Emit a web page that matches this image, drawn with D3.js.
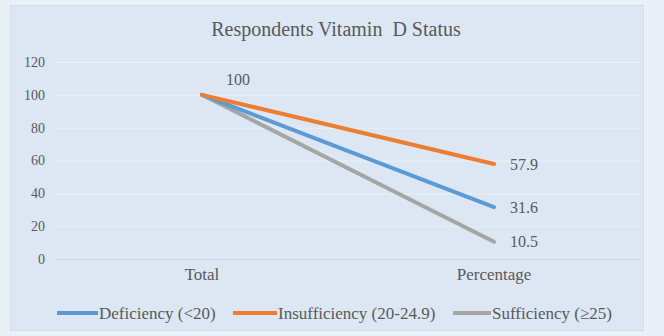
<!DOCTYPE html>
<html>
<head>
<meta charset="utf-8">
<script src="https://cdn.jsdelivr.net/npm/d3@7"></script>
<style>
  html, body { margin: 0; padding: 0; background: #e8eff7; }
  svg { display: block; }
  text { font-family: "Liberation Serif", "Times New Roman", serif; fill: #595959; }
</style>
</head>
<body>
<svg id="chart" width="664" height="336"></svg>
<script>
// Vitamin D status of respondents
const categories = ["Total", "Percentage"];
const seriesNames = ["Deficiency (<20)", "Insufficiency (20-24.9)", "Sufficiency (\u226525)"];
const deficiency = [100, 31.6];
const insufficiency = [100, 57.9];
const sufficiency = [100, 10.5];
const yTicks = [0, 20, 40, 60, 80, 100, 120];
const colors = ["#5b9bd5", "#ed7d31", "#a5a5a5"];

const series = [deficiency, insufficiency, sufficiency].map((values, i) => ({
  name: seriesNames[i], values, color: colors[i]
}));

const svg = d3.select("#chart");
const serif = "'Liberation Serif', 'Times New Roman', serif";

// panel
svg.append("rect")
  .attr("x", 10.5).attr("y", 5.5)
  .attr("width", 633).attr("height", 325)
  .attr("fill", "#dce7f3")
  .attr("stroke", "#d3dde9");

svg.append("text")
  .attr("x", 336).attr("y", 36)
  .attr("text-anchor", "middle")
  .attr("xml:space", "preserve")
  .style("white-space", "pre")
  .style("font-size", "20px")
  .text("Respondents Vitamin  D Status");

const plotLeft = 56, plotRight = 640, plotTop = 62, plotBottom = 259;

const x = d3.scaleBand().domain(categories).range([plotLeft, plotRight]);
const y = d3.scaleLinear().domain([0, 120]).range([plotBottom, plotTop]);

// gridlines
svg.append("g").selectAll("line").data(yTicks).join("line")
  .attr("x1", plotLeft).attr("x2", plotRight)
  .attr("y1", d => y(d) + 0.5).attr("y2", d => y(d) + 0.5)
  .attr("stroke", d => d === 0 ? "#c9d3df" : "#eaf0f7")
  .attr("stroke-width", 1);

// y axis labels
const yAxis = d3.axisLeft(y).tickValues(yTicks).tickSize(0).tickPadding(0);
const gy = svg.append("g").attr("transform", `translate(${plotLeft - 11},0)`).call(yAxis);
gy.select(".domain").remove();
gy.selectAll("text").style("font-size", "14px").attr("fill", "#595959")
  .style("font-family", serif);

// x axis labels
const xAxis = d3.axisBottom(x).tickSize(0).tickPadding(0);
const gx = svg.append("g").attr("transform", `translate(0,${plotBottom + 9})`).call(xAxis);
gx.select(".domain").remove();
gx.selectAll("text").style("font-size", "17px").attr("fill", "#595959")
  .style("font-family", serif);

const cx = d => x(d) + x.bandwidth() / 2;
const line = d3.line()
  .x((d, i) => cx(categories[i]))
  .y(d => y(d));

// gray first, then blue, then orange on top
const order = [2, 0, 1];
svg.append("g").selectAll("path").data(order.map(i => series[i])).join("path")
  .attr("d", d => line(d.values))
  .attr("fill", "none")
  .attr("stroke", d => d.color)
  .attr("stroke-width", 4)
  .attr("stroke-linecap", "round");

// value labels
svg.append("text")
  .attr("x", cx(categories[0]) + 36).attr("y", y(deficiency[0]) - 10)
  .attr("text-anchor", "middle")
  .style("font-size", "16px")
  .text(deficiency[0]);

series.forEach(s => {
  svg.append("text")
    .attr("x", cx(categories[1]) + 16)
    .attr("y", y(s.values[1]))
    .attr("dy", "0.35em")
    .style("font-size", "16px")
    .text(s.values[1]);
});

// legend
const legendItems = [
  { x: 57, w: 41 },
  { x: 233, w: 44 },
  { x: 453, w: 38 }
];
const lg = svg.append("g");
series.forEach((s, i) => {
  const it = legendItems[i];
  lg.append("line")
    .attr("x1", it.x).attr("x2", it.x + it.w)
    .attr("y1", 313).attr("y2", 313)
    .attr("stroke", s.color).attr("stroke-width", 4);
  lg.append("text")
    .attr("x", it.x + it.w + 1).attr("y", 313).attr("dy", "0.35em")
    .style("font-size", "17px")
    .text(s.name);
});
</script>
</body>
</html>
